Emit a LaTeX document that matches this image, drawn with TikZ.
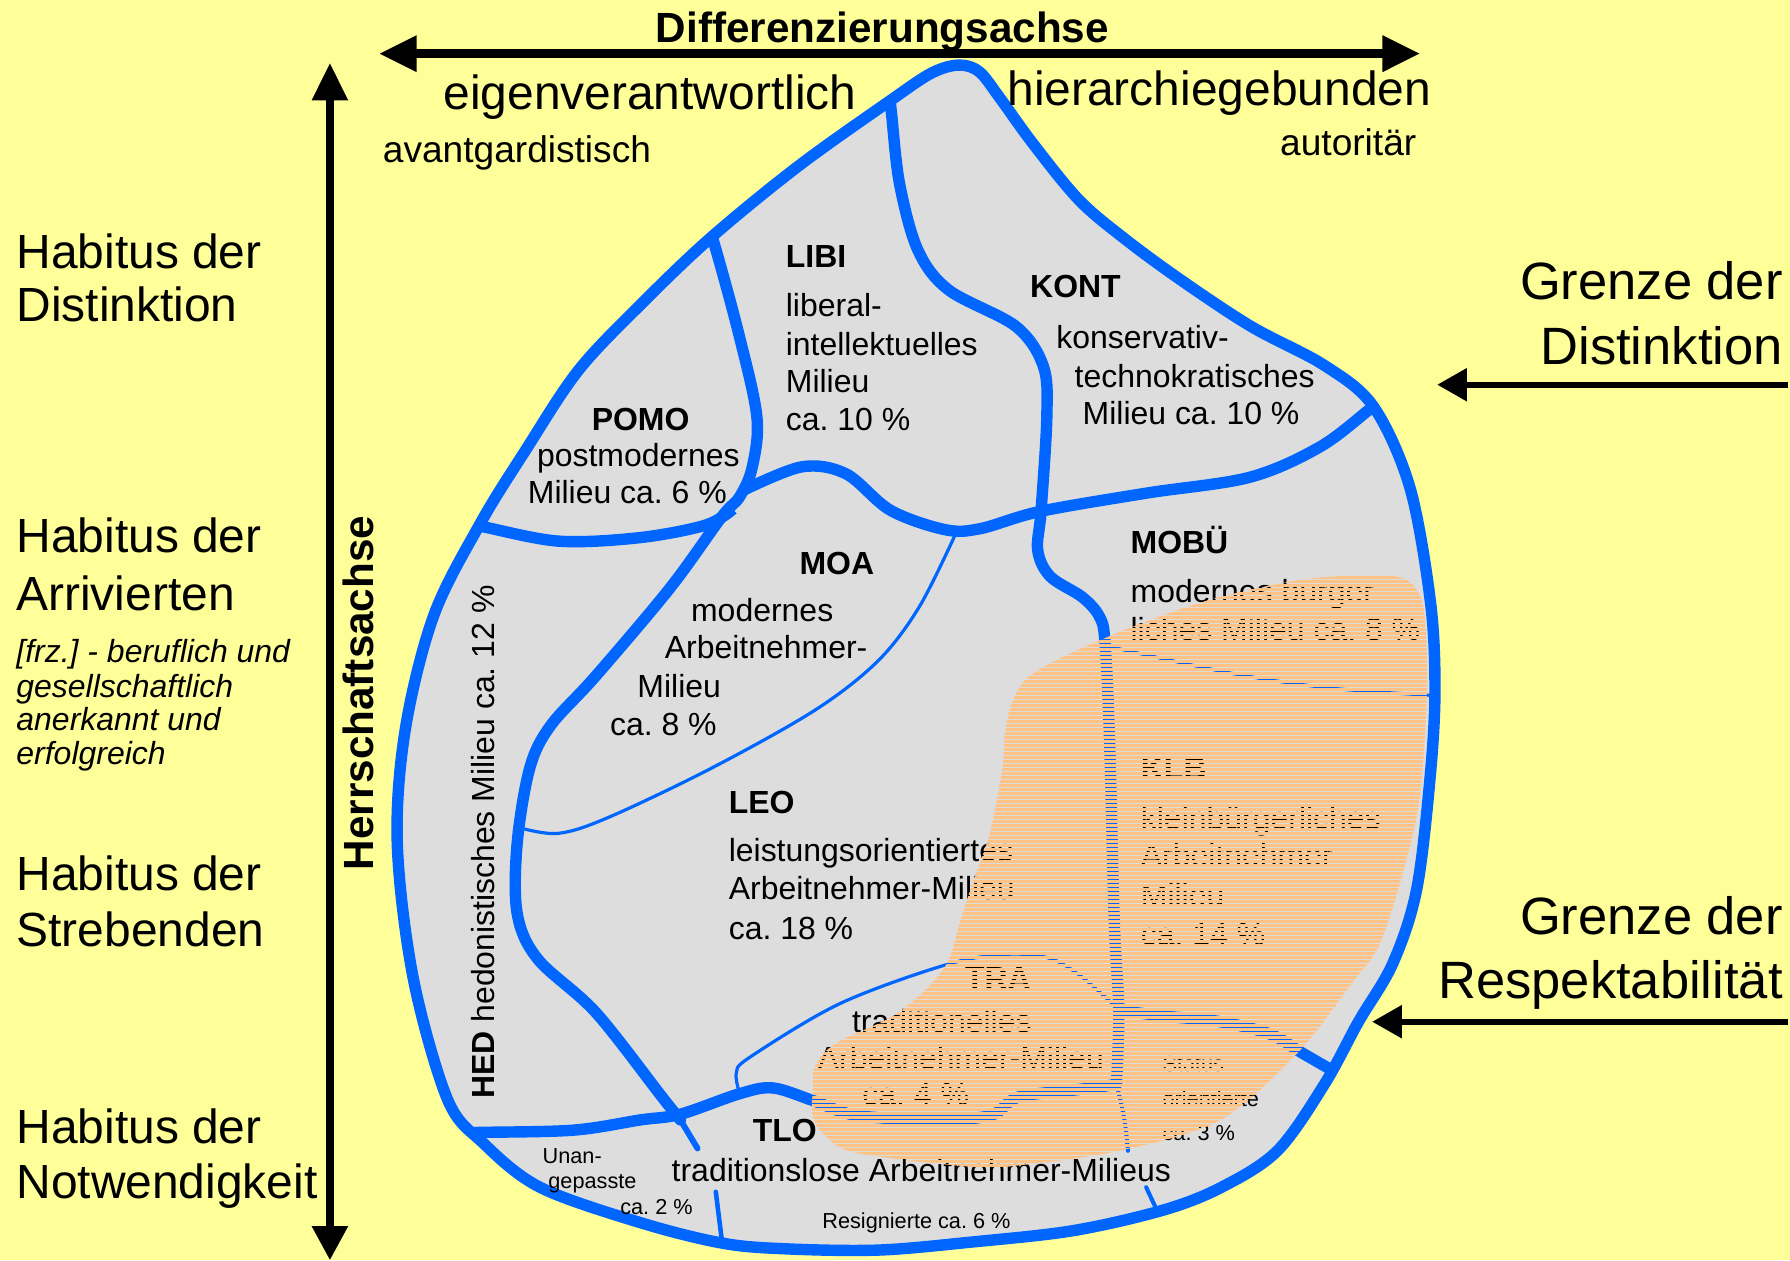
\documentclass[tikz,border=0pt]{standalone}
\usepackage{fontspec}
\setmainfont{Liberation Sans}
\usetikzlibrary{arrows.meta}
\definecolor{bgyellow}{HTML}{FFFF99}
\definecolor{cellgray}{HTML}{DDDDDD}
\definecolor{lineblue}{HTML}{0066FF}
\definecolor{peach}{HTML}{FFC285}
\frenchspacing
\begin{document}
\frenchspacing
\begin{tikzpicture}[x=0.5pt,y=-0.5pt,
  bord/.style={draw=lineblue, line width=5pt, line cap=round, line join=round},
  fine/.style={draw=lineblue, line width=1.4pt, line cap=round},
  mid/.style={draw=lineblue, line width=2pt, line cap=round},
  cell/.style={font=\fontsize{14}{16.75}\selectfont, inner sep=0pt, anchor=base west},
  cellb/.style={font=\fontsize{14}{16.75}\selectfont\bfseries, inner sep=0pt, anchor=base west},
  small/.style={font=\fontsize{9.5}{11}\selectfont, inner sep=0pt, anchor=base west},
  habitus/.style={font=\fontsize{21}{24}\selectfont, inner sep=0pt, anchor=base west},
  italic/.style={font=\fontsize{14}{15}\selectfont\itshape, inner sep=0pt, anchor=base west},
  grenze/.style={font=\fontsize{23}{27}\selectfont, inner sep=0pt, anchor=base east},
  axislabel/.style={font=\fontsize{18.5}{22}\selectfont\bfseries, inner sep=0pt, anchor=base},
  pole/.style={font=\fontsize{21}{24}\selectfont, inner sep=0pt, anchor=base west},
  subpole/.style={font=\fontsize{16.25}{19}\selectfont, inner sep=0pt, anchor=base west},
  axis/.style={draw=black, line width=3.8pt},
  pointer/.style={draw=black, line width=2.5pt}
]
\useasboundingbox (0,0) rectangle (1568,1104);
\fill[bgyellow] (0,0) rectangle (1568,1104);

% gray body
\fill[cellgray] plot[smooth cycle, tension=0.55] coordinates {
(840,57) (858,63) (876,86) (905,126) (945,175) (985,209) (1034,245) (1096,286) (1160,320) (1203,356) (1235,427) (1253,527) (1257,603) (1253,678) (1241,779) (1220,844) (1190,895) (1160,950) (1119,1008) (1070,1040) (1019,1060) (940,1078) (851,1088) (770,1095) (690,1094) (633,1089) (561,1071) (473,1040) (423,1001) (392,963) (362,857) (348,739) (355,639) (380,539) (421,458) (460,395) (507,324) (565,263) (624,207) (700,145) (780,88) (816,64)};

% interior lines
\begin{scope}
\clip plot[smooth cycle, tension=0.55] coordinates {
(840,57) (858,63) (876,86) (905,126) (945,175) (985,209) (1034,245) (1096,286) (1160,320) (1203,356) (1235,427) (1253,527) (1257,603) (1253,678) (1241,779) (1220,844) (1190,895) (1160,950) (1119,1008) (1070,1040) (1019,1060) (940,1078) (851,1088) (770,1095) (690,1094) (633,1089) (561,1071) (473,1040) (423,1001) (392,963) (362,857) (348,739) (355,639) (380,539) (421,458) (460,395) (507,324) (565,263) (624,207) (700,145) (780,88) (816,64)};
% LIBI/KONT and KLB left border
\draw[bord] plot[smooth, tension=0.55] coordinates {(778,72) (781,100) (788,161) (804,219) (831,254) (890,286) (914,321) (917,365) (912,447) (909,482) (920,505) (948,523) (963,540) (968,563) (972,650) (976,806) (980,885) (978,949)};
% POMO/LIBI and HED/MOA/LEO border
\draw[bord] plot[smooth, tension=0.55] coordinates {(616,190) (624,208) (647,292) (663,365) (659,409) (648,435) (632,453) (587,515) (522,592) (482,636) (464,673) (453,739) (453,800) (471,840) (522,887) (580,961) (596,981)};
\draw[mid, line width=2.6pt] (596,981) -- (611,1006);
\draw[mid] (627,1044) -- (634,1100);
% POMO bottom
\draw[bord, line cap=butt] plot[smooth, tension=0.55] coordinates {(400,458) (421,461) (489,474) (560,471) (618,460) (642,446)};
% MOA top / KONT bottom
\draw[bord, line cap=butt] plot[smooth, tension=0.55] coordinates {(650,430) (702,409) (741,415) (780,447) (828,464) (859,463) (911,448) (1004,432) (1095,418) (1157,391) (1203,356) (1220,345)};
% TLO top
\draw[bord] plot[smooth, tension=0.55] coordinates {(395,993) (418,992) (502,990) (561,981) (596,976) (648,958) (677,953) (712,964) (750,977) (820,981) (868,977) (892,961) (940,955) (978,950)};
% Status top
\draw[bord] plot[smooth, tension=0.55] coordinates {(980,885) (1019,890) (1069,895) (1113,906) (1140,922) (1180,945)};
% Status / Resignierte
\draw[mid, line width=1.8pt] plot[smooth, tension=0.55] coordinates {(978,949) (985,981) (988,1008)};
\draw[mid, line width=1.8pt] (1004,1040) -- (1018,1070);
% MOA/LEO thin
\draw[fine] plot[smooth, tension=0.55] coordinates {(836,470) (805,532) (769,579) (714,622) (623,673) (533,716) (489,730) (455,725)};
% TRA thin
\draw[fine] plot[smooth, tension=0.55] coordinates {(648,958) (645,940) (657,926) (736,879) (829,845) (881,836) (918,839) (944,853) (971,876) (980,885)};
% MOBU/KLB thin
\draw[fine] plot[smooth, tension=0.55] coordinates {(970,566) (1080,590) (1168,603) (1270,610)};
\end{scope}

% outline
\draw[bord] plot[smooth cycle, tension=0.55] coordinates {
(840,57) (858,63) (876,86) (905,126) (945,175) (985,209) (1034,245) (1096,286) (1160,320) (1203,356) (1235,427) (1253,527) (1257,603) (1253,678) (1241,779) (1220,844) (1190,895) (1160,950) (1119,1008) (1070,1040) (1019,1060) (940,1078) (851,1088) (770,1095) (690,1094) (633,1089) (561,1071) (473,1040) (423,1001) (392,963) (362,857) (348,739) (355,639) (380,539) (421,458) (460,395) (507,324) (565,263) (624,207) (700,145) (780,88) (816,64)};

% cell texts
\node[cellb] (pomo0) at (518,377) {POMO};
\node[cell] (pomo1) at (470,409) {postmodernes};
\node[cell] (pomo2) at (462,441) {Milieu ca. 6 \%};
\node[cellb] (libi0) at (688,234) {LIBI};
\node[cell] (libi1) at (688,277) {liberal-};
\node[cell] (libi2) at (688,311) {intellektuelles};
\node[cell] (libi3) at (688,344) {Milieu};
\node[cell] (libi4) at (688,377) {ca. 10 \%};
\node[cellb] (kont0) at (902,261) {KONT};
\node[cell] (kont1) at (925,305) {konservativ-};
\node[cell] (kont2) at (941,339) {technokratisches};
\node[cell] (kont3) at (948,372) {Milieu ca. 10 \%};
\node[cellb] (moa0) at (700,503) {MOA};
\node[cell] (moa1) at (605,544) {modernes};
\node[cell] (moa2) at (582,577) {Arbeitnehmer-};
\node[cell] (moa3) at (558,611) {Milieu};
\node[cell] (moa4) at (534,644) {ca. 8 \%};
\node[cellb] (mobu0) at (990,485) {MOBÜ};
\node[cell] (mobu1) at (990,528) {modernes bürger};
\node[cell] (mobu2) at (990,561) {liches Milieu ca. 8 \%};
\node[cellb] (leo0) at (638,713) {LEO};
\node[cell] (leo1) at (638,755) {leistungsorientiertes};
\node[cell] (leo2) at (638,788) {Arbeitnehmer-Milieu};
\node[cell] (leo3) at (638,823) {ca. 18 \%};
\node[cellb] (klb0) at (999,683) {KLB};
\node[cell] (klb1) at (999,727) {kleinbürgerliches};
\node[cell] (klb2) at (999,759) {Arbeitnehmer-};
\node[cell] (klb3) at (999,794) {Milieu};
\node[cell] (klb4) at (999,828) {ca. 14 \%};
\node[cellb] (tra0) at (845,867) {TRA};
\node[cell] (tra1) at (746,904) {traditionelles};
\node[cell] (tra2) at (716,937) {Arbeitnehmer-Milieu};
\node[cell] (tra3) at (755,968) {ca. 4 \%};
\node[cellb] (tlo0) at (659,1000) {TLO};
\node[cell] (tlo1) at (588,1035) {traditionslose Arbeitnehmer-Milieus};
\node[small] (un1) at (475,1019) {Unan-};
\node[small] (un2) at (480,1041) {gepasste};
\node[small] (un3) at (543,1064) {ca. 2 \%};
\node[small] (res) at (720,1076) {Resignierte ca. 6 \%};
\node[small] (st1) at (1018,939) {Status-};
\node[small] (st2) at (1018,969) {orientierte};
\node[small] (st3) at (1018,999) {ca. 3 \%};
\node[cell, rotate=90] (hed) at (433,963) {\textbf{HED} hedonistisches Milieu ca. 12 \%};

% orange striped overlay (rows aligned to the output pixel grid)
\begin{scope}
\clip plot[smooth cycle, tension=0.55] coordinates {(712,955) (714,934) (732,914) (787,887) (827,848) (841,807) (852,773) (867,730) (878,673) (880,645) (887,614) (905,590) (963,561) (1051,528) (1139,508) (1206,504) (1232,508) (1245,525) (1249,555) (1250,607) (1244,695) (1232,753) (1209,826) (1185,860) (1136,923) (1069,981) (985,1007) (900,1020) (851,1022) (751,1010) (724,996) (712,978)};
\foreach \k in {140,...,295} {
  \pgfmathsetmacro\yy{(4*\k+1.5)/1.1415816}
  \draw[peach, line width=1.314pt] (690,\yy) -- (1265,\yy);
}
\end{scope}

% axes
\coordinate (hL) at (332,47);
\coordinate (hR) at (1244,47);
\draw[axis, {Triangle[length=16.5pt 0, width=15pt 0]}-{Triangle[length=16.5pt 0, width=15pt 0]}] (hL) -- (hR);
\coordinate (vT) at (289,55);
\coordinate (vB) at (289,1104);
\draw[axis, line width=3.5pt, {Triangle[length=16.5pt 0, width=15pt 0]}-{Triangle[length=15pt 0, width=15pt 0]}] (vT) -- (vB);
\coordinate (p1s) at (1566,337);
\coordinate (p1e) at (1259,337);
\draw[pointer, -{Triangle[length=13pt 0, width=14pt 0]}] (p1s) -- (p1e);
\coordinate (p2s) at (1566,895);
\coordinate (p2e) at (1202,895);
\draw[pointer, -{Triangle[length=13pt 0, width=14pt 0]}] (p2s) -- (p2e);

% axis labels
\node[axislabel] (diff) at (773,37) {Differenzierungsachse};
\node[axislabel, rotate=90] (herr) at (327,607) {Herrschaftsachse};
\node[pole] (eigen) at (388,96) {eigenverantwortlich};
\node[pole] (hier) at (882,92) {hierarchiegebunden};
\node[subpole] (avant) at (335,142) {avantgardistisch};
\node[subpole] (autor) at (1121,136) {autoritär};

% left labels
\node[habitus] (h1a) at (14,235) {Habitus der};
\node[habitus] (h1b) at (14,282) {Distinktion};
\node[habitus] (h2a) at (14,484) {Habitus der};
\node[habitus] (h2b) at (14,535) {Arrivierten};
\node[italic] (it1) at (14,580) {[frz.] - beruflich und};
\node[italic] (it2) at (14,611) {gesellschaftlich};
\node[italic] (it3) at (14,640) {anerkannt und};
\node[italic] (it4) at (14,670) {erfolgreich};
\node[habitus] (h3a) at (14,780) {Habitus der};
\node[habitus] (h3b) at (14,829) {Strebenden};
\node[habitus] (h4a) at (14,1002) {Habitus der};
\node[habitus] (h4b) at (14,1050) {Notwendigkeit};

% right labels
\node[grenze] (g1a) at (1562,262) {Grenze der};
\node[grenze] (g1b) at (1562,319) {Distinktion};
\node[grenze] (g2a) at (1562,819) {Grenze der};
\node[grenze] (g2b) at (1562,875) {Respektabilität};
\end{tikzpicture}
\end{document}
